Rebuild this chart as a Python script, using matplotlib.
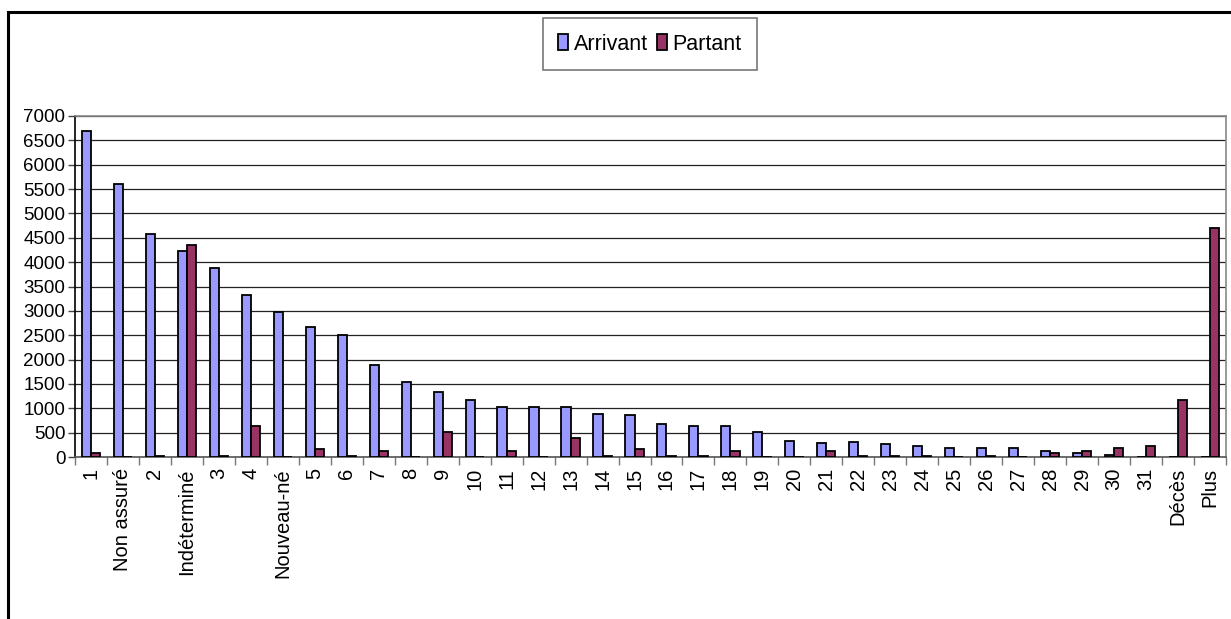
import numpy as np
import matplotlib.pyplot as plt
from matplotlib.patches import Rectangle

plt.rcParams['font.family'] = ['Liberation Sans', 'DejaVu Sans']

categories = ['1', 'Non assuré', '2', 'Indéterminé', '3', '4', 'Nouveau-né',
              '5', '6', '7', '8', '9', '10', '11', '12', '13', '14', '15',
              '16', '17', '18', '19', '20', '21', '22', '23', '24', '25',
              '26', '27', '28', '29', '30', '31', 'Décès', 'Plus']

arrivant = [6690, 5610, 4570, 4230, 3890, 3325, 2985,
            2670, 2505, 1895, 1545, 1334, 1162, 1026, 1026, 1026, 890, 855,
            684, 636, 636, 513, 335, 294, 300, 260, 220, 180,
            180, 180, 120, 90, 40, 0, 0, 0]

partant = [90, 0, 30, 4360, 30, 643, 0,
           164, 30, 130, 0, 513, 0, 123, 0, 390, 30, 164,
           30, 30, 123, 0, 0, 123, 30, 30, 30, 0,
           30, 0, 80, 120, 180, 220, 1170, 4700]

W, H = 1231, 619
fig = plt.figure(figsize=(W / 100, H / 100), dpi=100)
ax = fig.add_axes([75 / W, 1 - 457 / H, (1226 - 75) / W, (457 - 116) / H])

x = np.arange(len(categories))
bw = 1 / 3.5
ax.bar(x - bw / 2, arrivant, bw, color='#9999FF', edgecolor='black', linewidth=1.3,
       label='Arrivant', zorder=3)
ax.bar(x + bw / 2, partant, bw, color='#993366', edgecolor='black', linewidth=1.3,
       label='Partant', zorder=3)

ax.set_xlim(-0.5, len(categories) - 0.5)
ax.set_ylim(0, 7000)
ax.set_yticks(np.arange(0, 7001, 500))
ax.yaxis.grid(True, color='#222222', linewidth=0.9, zorder=0)
ax.tick_params(axis='y', labelsize=13.5, length=5, width=1, pad=2, color='#444444')

ax.set_xticks(x)
ax.set_xticklabels(categories, rotation=90, fontsize=14.5)
ax.set_xticks(np.arange(-0.5, len(categories)), minor=True)
ax.tick_params(axis='x', which='major', length=0, pad=8)
ax.tick_params(axis='x', which='minor', length=6, width=1, color='#777777')

for s in ['top', 'right']:
    ax.spines[s].set_color('#888888')
    ax.spines[s].set_linewidth(1.2)
ax.spines['left'].set_color('black')
ax.spines['bottom'].set_color('#555555')
ax.spines['left'].set_linewidth(1.2)
ax.spines['bottom'].set_linewidth(1.2)

leg = fig.legend(loc='center', bbox_to_anchor=(650 / W, 1 - 44 / H), ncol=2,
                 fontsize=15.5, frameon=True, fancybox=False, handlelength=0.45,
                 handleheight=0.8, handletextpad=0.25, columnspacing=0.45,
                 borderpad=0.7, borderaxespad=0)
leg.get_frame().set_edgecolor('#555555')
leg.get_frame().set_linewidth(1.2)

fig.patches.append(Rectangle((8 / W, -0.05), 1.0, 1 - 12 / H + 0.05,
                             transform=fig.transFigure, fill=False,
                             edgecolor='black', linewidth=2.2))

fig.savefig('out.png', dpi=100)
